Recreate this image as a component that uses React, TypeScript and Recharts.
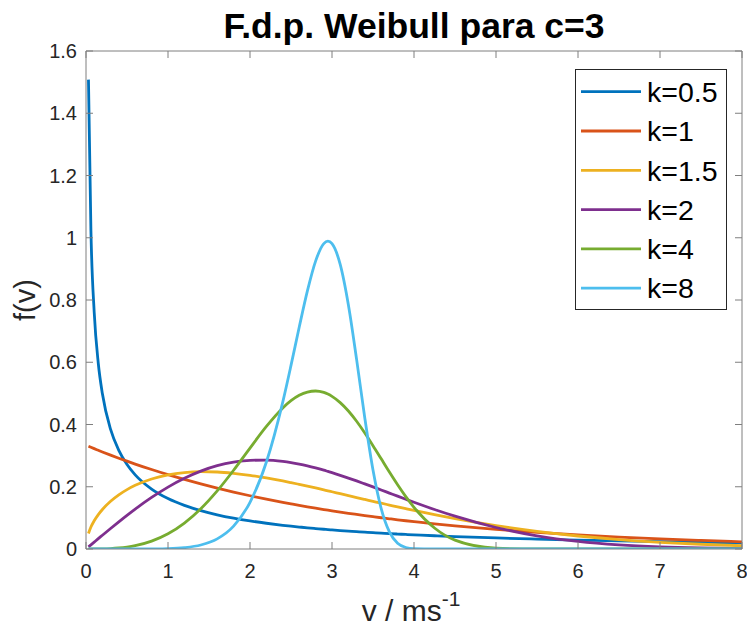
import React from 'react';
import { LineChart, Line, XAxis, YAxis, Legend } from 'recharts';

const vValues = [0.03, 0.06, 0.1, 0.15, 0.2, 0.3, 0.4, 0.5, 0.6, 0.8, 1.0, 1.2, 1.4, 1.6, 1.8, 2.0, 2.2, 2.4, 2.5, 2.6, 2.7, 2.8, 2.9, 2.95, 3.0, 3.1, 3.2, 3.3, 3.4, 3.5, 3.6, 3.7, 3.8, 3.9, 4.0, 4.25, 4.5, 5.0, 5.5, 6.0, 6.5, 7.0, 7.5, 8.0];

const k05 = [1.508, 1.023, 0.7605, 0.596, 0.4986, 0.3842, 0.3168, 0.2714, 0.2383, 0.1926, 0.1621, 0.14, 0.1232, 0.11, 0.0992, 0.0902, 0.0827, 0.0762, 0.0733, 0.0706, 0.068, 0.0657, 0.0634, 0.0624, 0.0613, 0.0593, 0.0575, 0.0557, 0.054, 0.0524, 0.0509, 0.0494, 0.0481, 0.0467, 0.0455, 0.0426, 0.04, 0.0355, 0.0318, 0.0287, 0.026, 0.0237, 0.0217, 0.0199];
const k1 = [0.33, 0.3267, 0.3224, 0.3171, 0.3118, 0.3016, 0.2917, 0.2822, 0.2729, 0.2553, 0.2388, 0.2234, 0.209, 0.1956, 0.1829, 0.1711, 0.1601, 0.1498, 0.1449, 0.1401, 0.1355, 0.1311, 0.1268, 0.1247, 0.1226, 0.1186, 0.1147, 0.111, 0.1073, 0.1038, 0.1004, 0.0971, 0.0939, 0.0908, 0.0879, 0.0808, 0.0744, 0.063, 0.0533, 0.0451, 0.0382, 0.0323, 0.0274, 0.0232];
const k15 = [0.05, 0.0705, 0.0907, 0.1106, 0.1269, 0.1532, 0.1739, 0.1907, 0.2045, 0.225, 0.2381, 0.2455, 0.2483, 0.2474, 0.2433, 0.2369, 0.2285, 0.2187, 0.2133, 0.2077, 0.202, 0.1961, 0.19, 0.187, 0.1839, 0.1778, 0.1716, 0.1654, 0.1593, 0.1532, 0.1471, 0.1412, 0.1353, 0.1295, 0.1238, 0.1102, 0.0975, 0.0751, 0.0566, 0.0418, 0.0303, 0.0216, 0.0152, 0.0105];
const k2 = [0.0067, 0.0133, 0.0222, 0.0333, 0.0442, 0.066, 0.0873, 0.1081, 0.1281, 0.1656, 0.1989, 0.2272, 0.2502, 0.2676, 0.2791, 0.285, 0.2855, 0.2812, 0.2774, 0.2726, 0.2669, 0.2604, 0.2533, 0.2493, 0.2453, 0.2368, 0.2279, 0.2187, 0.2091, 0.1994, 0.1895, 0.1796, 0.1697, 0.1599, 0.1502, 0.1269, 0.1054, 0.0691, 0.0424, 0.0244, 0.0132, 0.0067, 0.0032, 0.0014];
const k4 = [0, 0, 0, 0.0002, 0.0004, 0.0013, 0.0032, 0.0062, 0.0106, 0.0252, 0.0488, 0.0832, 0.1292, 0.1865, 0.253, 0.3242, 0.3938, 0.4532, 0.4764, 0.4937, 0.5043, 0.5076, 0.503, 0.4977, 0.4905, 0.4704, 0.4434, 0.4104, 0.3728, 0.3321, 0.2897, 0.2473, 0.2065, 0.1684, 0.134, 0.0675, 0.0285, 0.0028, 0.0001, 0, 0, 0, 0, 0];
const k8 = [0, 0, 0, 0, 0, 0, 0, 0, 0, 0.0003, 0.0012, 0.0044, 0.0128, 0.0325, 0.0734, 0.1501, 0.2797, 0.4729, 0.5898, 0.7124, 0.8293, 0.925, 0.9813, 0.989, 0.981, 0.9143, 0.7841, 0.6092, 0.4211, 0.2536, 0.1297, 0.0548, 0.0185, 0.0048, 0.0009, 0, 0, 0, 0, 0, 0, 0, 0, 0];

const seriesKeys = ['k05', 'k1', 'k15', 'k2', 'k4', 'k8'];
const seriesNames = ['k=0.5', 'k=1', 'k=1.5', 'k=2', 'k=4', 'k=8'];
const seriesColors = ['#0072BD', '#D95319', '#EDB120', '#7E2F8E', '#77AC30', '#4DBEEE'];
const seriesValues = [k05, k1, k15, k2, k4, k8];

const xTicks = [0, 1, 2, 3, 4, 5, 6, 7, 8];
const yTicks = [0, 0.2, 0.4, 0.6, 0.8, 1, 1.2, 1.4, 1.6];

const titleText = 'F.d.p. Weibull para c=3';
const yLabelText = 'f(v)';
const xLabelMain = 'v / ms';
const xLabelSup = '-1';

const data = vValues.map((v, i) => {
  const row: Record<string, number> = { v };
  seriesKeys.forEach((key, j) => {
    row[key] = seriesValues[j][i];
  });
  return row;
});

const FONT = '"Liberation Sans", Arial, Helvetica, sans-serif';
const AXIS_COLOR = '#7f7f7f';
const TEXT_COLOR = '#262626';

const renderXLabel = (props: any) => {
  const vb = props.viewBox || {};
  const cx = vb.x + vb.width / 2 - 3;
  const baseline = vb.y + vb.height + 42;
  return (
    <text x={cx} y={baseline} textAnchor="middle" fontFamily={FONT} fontSize={30} fill={TEXT_COLOR}>
      <tspan>{xLabelMain}</tspan>
      <tspan dy={-15} fontSize={21}>{xLabelSup}</tspan>
    </text>
  );
};

const renderYLabel = (props: any) => {
  const vb = props.viewBox || {};
  const bx = vb.x + 9;
  const cy = vb.y + vb.height / 2;
  return (
    <text transform={`translate(${bx},${cy}) rotate(-90)`} textAnchor="middle" fontFamily={FONT} fontSize={29} fill={TEXT_COLOR}>
      {yLabelText}
    </text>
  );
};

const renderLegend = (props: any) => {
  const payload = props.payload || [];
  return (
    <svg width={152} height={241} style={{ display: 'block' }}>
      <rect x={0.5} y={0.5} width={151} height={240} fill="#fff" stroke={TEXT_COLOR} strokeWidth={1} />
      {payload.map((item: any, i: number) => {
        const cy = 22.7 + i * 39.3;
        return (
          <g key={item.value}>
            <line x1={6} x2={66} y1={cy} y2={cy} stroke={item.color} strokeWidth={2.8} />
            <text x={72} y={cy} dy="0.36em" fontFamily={FONT} fontSize={28.5} fill="#000">
              {item.value}
            </text>
          </g>
        );
      })}
    </svg>
  );
};

export default function App() {
  return (
    <div style={{ position: 'absolute', left: 0, top: 0, width: 747, height: 627, background: '#fff' }}>
      <div
        style={{
          position: 'absolute',
          left: 86,
          width: 656,
          top: 9,
          textAlign: 'center',
          fontFamily: FONT,
          fontWeight: 'bold',
          fontSize: 35.5,
          lineHeight: '35px',
          color: '#000',
          whiteSpace: 'nowrap',
        }}
      >
        {titleText}
      </div>
      <LineChart width={747} height={627} data={data} margin={{ top: 41, right: 0, bottom: 48, left: 26 }}>
        <XAxis
          xAxisId="b"
          type="number"
          dataKey="v"
          domain={[0, 8]}
          ticks={xTicks}
          interval={0}
          allowDataOverflow
          height={30}
          tickSize={-7}
          tickMargin={22}
          axisLine={{ stroke: AXIS_COLOR }}
          tickLine={{ stroke: AXIS_COLOR }}
          tick={{ fill: TEXT_COLOR, fontSize: 20, fontFamily: FONT }}
          label={renderXLabel}
        />
        <XAxis
          xAxisId="t"
          orientation="top"
          type="number"
          dataKey="v"
          domain={[0, 8]}
          ticks={xTicks}
          interval={0}
          allowDataOverflow
          height={10}
          tickSize={-7}
          axisLine={{ stroke: AXIS_COLOR }}
          tickLine={{ stroke: AXIS_COLOR }}
          tickFormatter={() => ''}
        />
        <YAxis
          yAxisId="l"
          type="number"
          domain={[0, 1.6]}
          ticks={yTicks}
          interval={0}
          allowDataOverflow
          width={60}
          tickSize={-7}
          tickMargin={16}
          axisLine={{ stroke: AXIS_COLOR }}
          tickLine={{ stroke: AXIS_COLOR }}
          tick={{ fill: TEXT_COLOR, fontSize: 20, fontFamily: FONT }}
          label={renderYLabel}
        />
        <YAxis
          yAxisId="r"
          orientation="right"
          type="number"
          domain={[0, 1.6]}
          ticks={yTicks}
          interval={0}
          allowDataOverflow
          width={5}
          tickSize={-7}
          axisLine={{ stroke: AXIS_COLOR }}
          tickLine={{ stroke: AXIS_COLOR }}
          tickFormatter={() => ''}
        />
        <Legend
          layout="horizontal"
          verticalAlign="middle"
          align="center"
          content={renderLegend}
          wrapperStyle={{ position: 'absolute', left: 575, top: 69, width: 152, height: 241, margin: 0 }}
        />
        {seriesKeys.map((key, j) => (
          <Line
            key={key}
            xAxisId="b"
            yAxisId="l"
            type="monotone"
            dataKey={key}
            name={seriesNames[j]}
            stroke={seriesColors[j]}
            strokeWidth={2.8}
            dot={false}
            activeDot={false}
            isAnimationActive={false}
          />
        ))}
      </LineChart>
    </div>
  );
}
